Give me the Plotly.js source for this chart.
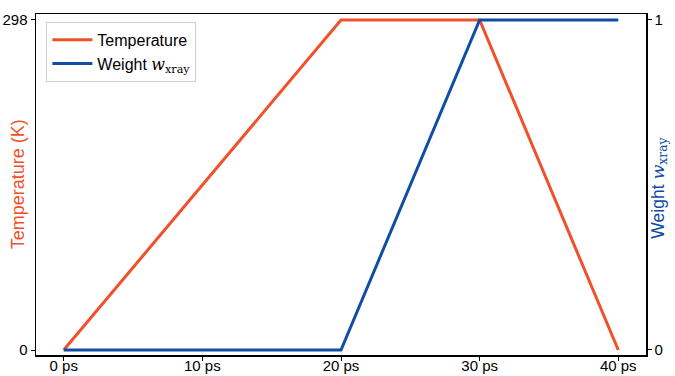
<!DOCTYPE html>
<html>
<head>
<meta charset="utf-8">
<script src="https://cdn.plot.ly/plotly-3.0.1.min.js"></script>
<style>html,body{margin:0;padding:0;background:#fff;}#chart{width:675px;height:376px;}</style>
</head>
<body>
<div id="chart"></div>
<script>
const timePs = [0, 20, 30, 40];
const temperatureK = [0, 298, 298, 0];
const weightXray = [0, 0, 1, 1];
const xTickVals = [0, 10, 20, 30, 40];
const xTickText = ["0 ps", "10 ps", "20 ps", "30 ps", "40 ps"];
const tempTickVals = [0, 298];
const weightTickVals = [0, 1];

const orange = "#f0502a";
const blue = "#114ea3";
const wMath = "<span style='font-family:DejaVu Serif'><i>w</i><sub>xray</sub></span>";
const wLabel = "Weight " + wMath;

const traces = [
  {x: timePs, y: temperatureK, type: "scatter", mode: "lines", name: "Temperature",
   line: {color: orange, width: 3}, xaxis: "x", yaxis: "y"},
  {x: timePs, y: weightXray, type: "scatter", mode: "lines", name: wLabel,
   line: {color: blue, width: 3}, xaxis: "x2", yaxis: "y2"}
];

const tickFont = {family: "Liberation Sans", size: 15, color: "#000"};

const layout = {
  width: 675, height: 376,
  margin: {l: 36, r: 29, t: 14, b: 21, autoexpand: false},
  paper_bgcolor: "#fff", plot_bgcolor: "#fff",
  font: {family: "Liberation Sans", size: 15, color: "#000"},
  showlegend: true,
  legend: {x: 0.017, y: 0.977, xanchor: "left", yanchor: "top",
           bgcolor: "rgba(255,255,255,0.9)", bordercolor: "#d0d0d0", borderwidth: 1,
           font: {family: "Liberation Sans", size: 16, color: "#000"},
           itemwidth: 40, tracegroupgap: 2},
  xaxis: {range: [-2, 42], tickvals: xTickVals, showticklabels: false, automargin: false,
          showgrid: false, zeroline: false, showline: true, linecolor: "#000", linewidth: 1.5,
          mirror: true, ticks: "outside", ticklen: 4, tickcolor: "#000"},
  xaxis2: {overlaying: "x", anchor: "y", side: "bottom", range: [-2, 42],
           tickvals: xTickVals, ticktext: xTickText, automargin: false,
           showgrid: false, zeroline: false, showline: false, ticks: "", ticklen: 0,
           tickfont: tickFont},
  yaxis: {range: [-4.5, 303.4], tickvals: tempTickVals, ticktext: tempTickVals.map(String), automargin: false,
          showgrid: false, zeroline: false, showline: true, linecolor: "#000", linewidth: 1.5,
          ticks: "outside", ticklen: 4, tickcolor: "#000", tickfont: tickFont},
  yaxis2: {overlaying: "y", anchor: "x", side: "right", range: [-0.0152, 1.018], tickvals: weightTickVals,
           ticktext: weightTickVals.map(String), automargin: false,
           showgrid: false, zeroline: false, showline: true, linecolor: "#000", linewidth: 1.5,
           ticks: "outside", ticklen: 4, tickcolor: "#000", tickfont: tickFont},
  annotations: [
    {text: "Temperature (K)", xref: "paper", yref: "paper", x: -0.03, y: 0.5,
     xanchor: "center", yanchor: "middle", textangle: -90, showarrow: false,
     font: {family: "Liberation Sans", size: 18, color: orange}},
    {text: wLabel, xref: "paper", yref: "paper", x: 1.0225, y: 0.49,
     xanchor: "center", yanchor: "middle", textangle: -90, showarrow: false,
     font: {family: "Liberation Sans", size: 17.5, color: blue}}
  ]
};

Plotly.newPlot("chart", traces, layout, {displayModeBar: false, staticPlot: true});
</script>
</body>
</html>
